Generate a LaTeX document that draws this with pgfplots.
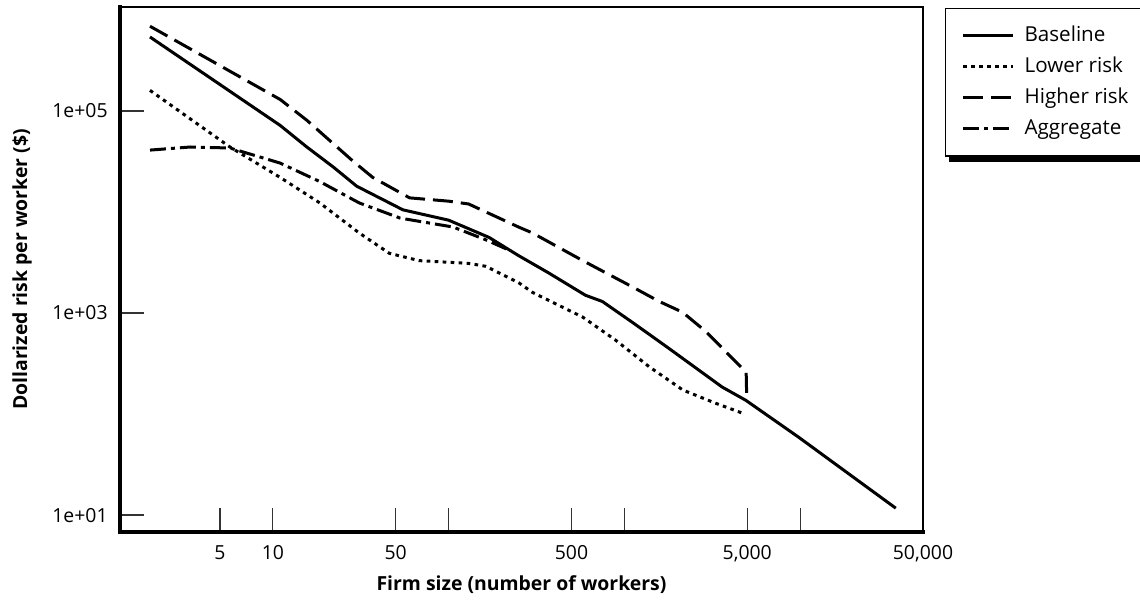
\documentclass[border=0pt]{standalone}
\usepackage{fontspec}
\setmainfont{Open Sans}
\usepackage{pgfplots}
\pgfplotsset{compat=1.18}
\pgfplotsset{legend image code/.code={\draw[#1] (0pt,0pt) -- (25pt,0pt);}}

\tikzset{
  basel/.style={black, line width=1.5pt, line join=round},
  lowr/.style={black, line width=1.5pt, dash pattern=on 1.8pt off 2.2pt},
  highr/.style={black, line width=1.5pt, line join=round, dash pattern=on 10pt off 4pt},
  aggr/.style={black, line width=1.5pt, line join=round, dash pattern=on 8pt off 2.5pt on 2pt off 2.5pt},
}

\begin{document}
\begin{tikzpicture}
\path[use as bounding box] (-60pt,-35.5pt) rectangle (510pt,266pt);
\begin{axis}[
  scale only axis, width=401.5pt, height=262.5pt,
  xmode=log, ymode=log,
  xmin=1.35, xmax=50000, ymin=6.8, ymax=1.07e6,
  xminorticks=false, yminorticks=false,
  axis line style={line width=0.6pt},
  xtick pos=bottom, ytick pos=left,
  tick align=inside, major tick length=12pt,
  tick style={black!80, line width=0.6pt},
  xtick={5,10,50,100,500,1000,5000,10000,50000},
  xticklabels={5,10,50,,500,,{5,000},,{50,000}},
  ytick={10,1000,100000},
  yticklabels={\mbox{1e+01},\mbox{1e+03},\mbox{1e+05}},
  font=\fontsize{9.7}{11}\selectfont,
  xticklabel style={inner sep=0pt, anchor=north, yshift=-6.5pt},
  yticklabel style={inner sep=0pt, anchor=east, xshift=-6pt},
  xlabel={\bfseries Firm size (number of workers)},
  ylabel={\bfseries Dollarized risk per worker (\$)},
  label style={font=\fontsize{10}{12}\selectfont},
  every axis x label/.style={at={(axis description cs:0.5,-0.1)}, anchor=center},
  every axis y label/.style={at={(axis description cs:-0.122,0.5)}, anchor=center, rotate=90},
  clip=false,
  legend cell align=left,
  legend style={name=lgd, at={(axis description cs:1.0274,0.998)}, anchor=north west,
    draw=black, line width=0.6pt, fill=white,
    font=\fontsize{10.3}{12}\selectfont,
    inner xsep=8pt, inner ysep=7pt, row sep=2.3pt,
    nodes={inner sep=2pt, text height=7.2pt, text depth=2pt, anchor=west},
    /tikz/every odd column/.append style={column sep=3pt}},
]
\addplot[basel] coordinates {
  (2,5.4e5) (11,7.2e4) (15.6,4.4e4) (22,2.8e4) (30,1.8e4) (55,1.05e4)
  (100,8.3e3) (170,5.6e3) (250,3.7e3) (370,2.5e3) (600,1.5e3) (750,1.3e3)
  (1120,800) (1750,460) (3600,185) (4900,137) (9800,59) (35000,11.7)};
\addplot[lowr] coordinates {
  (2,1.6e5) (5.7,4.4e4) (11,2.2e4) (18.5,1.23e4) (31,6.2e3) (46,3.9e3)
  (68,3.3e3) (130,3.1e3) (163,2.9e3) (250,2.0e3) (300,1.6e3) (580,910)
  (890,540) (1380,295) (2150,173) (3300,128) (4700,102)};
\addplot[highr] coordinates {
  (2,6.9e5) (11,1.3e5) (15.6,8.1e4) (28.5,3.2e4) (37,2.2e4) (60,1.38e4)
  (100,1.28e4) (130,1.2e4) (250,7.1e3) (300,6.2e3) (580,3.3e3) (1120,1.8e3)
  (1580,1.3e3) (2140,1.02e3) (2925,650) (3850,400) (4930,260) (4960,160)};
\addplot[aggr] coordinates {
  (2,4.1e4) (3.4,4.4e4) (5.7,4.3e4) (11,3.05e4) (18.5,2.0e4) (31,1.23e4)
  (53,8.7e3) (106,7.1e3) (163,5.3e3) (220,4.2e3)};
\legend{Baseline, Lower risk, Higher risk, Aggregate}
\draw[line width=2pt, line cap=rect] (rel axis cs:0,1) -- (rel axis cs:0,0) -- (rel axis cs:1,0);
\end{axis}
\fill[black] ([xshift=2pt]lgd.south west) rectangle ([xshift=2.5pt,yshift=-2.5pt]lgd.south east);
\fill[black] ([yshift=-2pt]lgd.north east) rectangle ([xshift=2.5pt,yshift=-2.5pt]lgd.south east);
\end{tikzpicture}
\end{document}
